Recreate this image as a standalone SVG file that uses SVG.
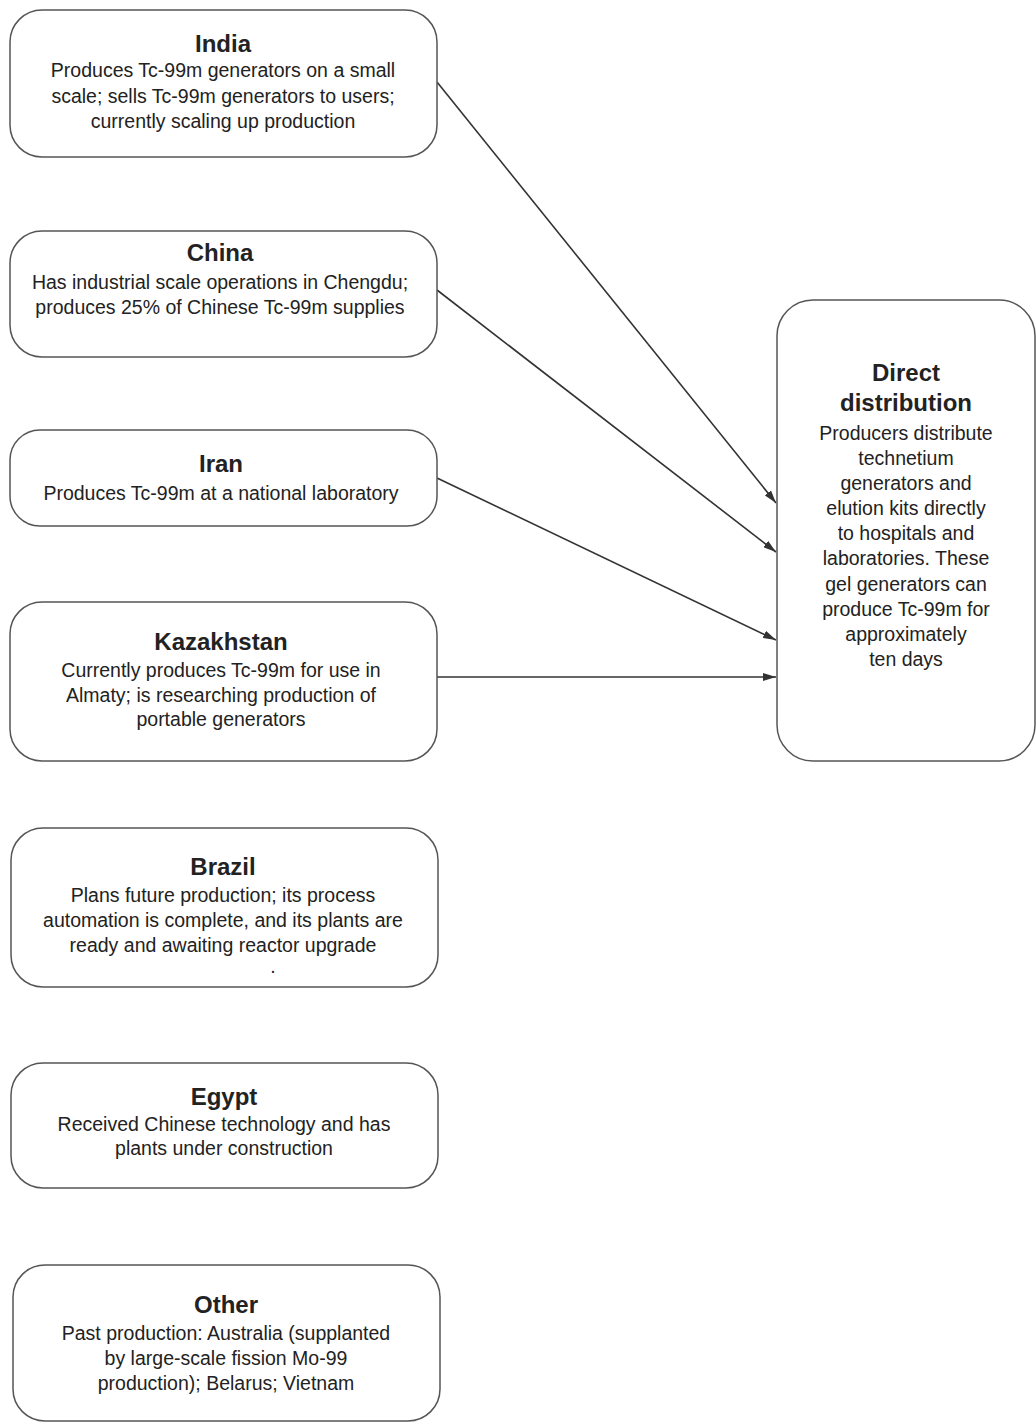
<svg xmlns="http://www.w3.org/2000/svg" width="1036" height="1423" viewBox="0 0 1036 1423">
<style>
.box{fill:#fff;stroke:#555;stroke-width:1.5}
.t{font-family:"Liberation Sans",Arial,sans-serif;font-weight:bold;font-size:24px;fill:#222;text-anchor:middle}
.b{font-family:"Liberation Sans",Arial,sans-serif;font-size:19.5px;fill:#222;text-anchor:middle}
.c{fill:none;stroke:#333;stroke-width:1.6}
</style>
<defs>
<marker id="ah" viewBox="0 0 13 8" refX="13" refY="4" markerWidth="13" markerHeight="8" markerUnits="userSpaceOnUse" orient="auto">
<path d="M0,0 L13,4 L0,8 z" fill="#333"/>
</marker>
</defs>
<rect width="1036" height="1423" fill="#fff"/>
<g id="connectors">
<line class="c" x1="437" y1="82" x2="776" y2="503" marker-end="url(#ah)"/>
<line class="c" x1="437" y1="290" x2="776" y2="552" marker-end="url(#ah)"/>
<line class="c" x1="437" y1="478" x2="776" y2="640" marker-end="url(#ah)"/>
<line class="c" x1="437" y1="677" x2="776" y2="677" marker-end="url(#ah)"/>
</g>
<g id="india">
<rect class="box" x="10" y="10" width="427" height="147" rx="32"/>
<text class="t" x="223" y="52">India</text>
<text class="b" x="223" y="77">Produces Tc-99m generators on a small</text>
<text class="b" x="223" y="103">scale; sells Tc-99m generators to users;</text>
<text class="b" x="223" y="128">currently scaling up production</text>
</g>
<g id="china">
<rect class="box" x="10" y="231" width="427" height="126" rx="32"/>
<text class="t" x="220" y="261">China</text>
<text class="b" x="220" y="289">Has industrial scale operations in Chengdu;</text>
<text class="b" x="220" y="314">produces 25% of Chinese Tc-99m supplies</text>
</g>
<g id="iran">
<rect class="box" x="10" y="430" width="427" height="96" rx="30"/>
<text class="t" x="221" y="472">Iran</text>
<text class="b" x="221" y="500">Produces Tc-99m at a national laboratory</text>
</g>
<g id="kazakhstan">
<rect class="box" x="10" y="602" width="427" height="159" rx="32"/>
<text class="t" x="221" y="650">Kazakhstan</text>
<text class="b" x="221" y="677">Currently produces Tc-99m for use in</text>
<text class="b" x="221" y="702">Almaty; is researching production of</text>
<text class="b" x="221" y="726">portable generators</text>
</g>
<g id="brazil">
<rect class="box" x="11" y="828" width="427" height="159" rx="32"/>
<text class="t" x="223" y="875">Brazil</text>
<text class="b" x="223" y="902">Plans future production; its process</text>
<text class="b" x="223" y="927">automation is complete, and its plants are</text>
<text class="b" x="223" y="952">ready and awaiting reactor upgrade</text>
<text class="b" x="273" y="973">.</text>
</g>
<g id="egypt">
<rect class="box" x="11" y="1063" width="427" height="125" rx="32"/>
<text class="t" x="224" y="1105">Egypt</text>
<text class="b" x="224" y="1131">Received Chinese technology and has</text>
<text class="b" x="224" y="1155">plants under construction</text>
</g>
<g id="other">
<rect class="box" x="13" y="1265" width="427" height="156" rx="32"/>
<text class="t" x="226" y="1313">Other</text>
<text class="b" x="226" y="1340">Past production: Australia (supplanted</text>
<text class="b" x="226" y="1365">by large-scale fission Mo-99</text>
<text class="b" x="226" y="1390">production); Belarus; Vietnam</text>
</g>
<g id="direct-distribution">
<rect class="box" x="777" y="300" width="258" height="461" rx="36"/>
<text class="t" x="906" y="381">Direct</text>
<text class="t" x="906" y="411">distribution</text>
<text class="b" x="906" y="440">Producers distribute</text>
<text class="b" x="906" y="465">technetium</text>
<text class="b" x="906" y="490">generators and</text>
<text class="b" x="906" y="515">elution kits directly</text>
<text class="b" x="906" y="540">to hospitals and</text>
<text class="b" x="906" y="565">laboratories. These</text>
<text class="b" x="906" y="591">gel generators can</text>
<text class="b" x="906" y="616">produce Tc-99m for</text>
<text class="b" x="906" y="641">approximately</text>
<text class="b" x="906" y="666">ten days</text>
</g>
</svg>
